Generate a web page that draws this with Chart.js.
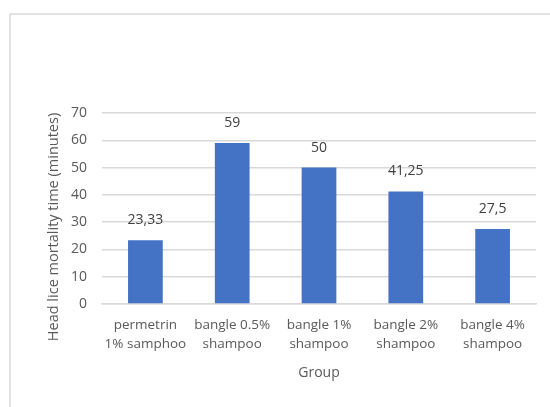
<!DOCTYPE html>
<html>
<head>
<meta charset="utf-8">
<script src="https://cdn.jsdelivr.net/npm/chart.js@4/dist/chart.umd.min.js"></script>
<style>
  html, body { margin: 0; padding: 0; background: #fff; }
  #wrap { position: relative; width: 550px; height: 407px; }
</style>
</head>
<body>
<div id="wrap"><canvas id="c" width="550" height="407"></canvas></div>
<script>
const groups = [
  ['permetrin', '1% samphoo'],
  ['bangle 0.5%', 'shampoo'],
  ['bangle 1%', 'shampoo'],
  ['bangle 2%', 'shampoo'],
  ['bangle 4%', 'shampoo']
];
const mortalityMinutes = [23.33, 59, 50, 41.25, 27.5];
const yTicks = [0, 10, 20, 30, 40, 50, 60, 70];
const yTitle = 'Head lice mortality time (minutes)';
const xTitle = 'Group';

const FONT = '"Open Sans", "Noto Sans", sans-serif';
const SIZE = 14;
const TEXT = '#595959';
const GRID = '#d9d9d9';

// Thin frame along the top and left edges, plus the vertical axis title
const framePlugin = {
  id: 'frame',
  beforeDraw(chart) {
    const ctx = chart.ctx;
    ctx.save();
    ctx.strokeStyle = GRID;
    ctx.lineWidth = 1.5;
    ctx.beginPath();
    ctx.moveTo(10, 407);
    ctx.lineTo(10, 14);
    ctx.lineTo(550, 14);
    ctx.stroke();

    ctx.translate(54, 227);
    ctx.rotate(-Math.PI / 2);
    ctx.font = '14.5px ' + FONT;
    ctx.fillStyle = TEXT;
    ctx.textAlign = 'center';
    ctx.textBaseline = 'middle';
    ctx.fillText(yTitle, 0, 0);
    ctx.restore();
  }
};

// Value labels above each bar, decimal comma
const valueLabels = {
  id: 'valueLabels',
  afterDatasetsDraw(chart) {
    const ctx = chart.ctx;
    const meta = chart.getDatasetMeta(0);
    ctx.save();
    ctx.font = SIZE + 'px ' + FONT;
    ctx.fillStyle = '#404040';
    ctx.textAlign = 'center';
    ctx.textBaseline = 'middle';
    meta.data.forEach((bar, i) => {
      const txt = String(chart.data.datasets[0].data[i]).replace('.', ',');
      ctx.fillText(txt, bar.x, bar.y - 20);
    });
    ctx.restore();
  }
};

new Chart(document.getElementById('c'), {
  type: 'bar',
  data: {
    labels: groups,
    datasets: [{
      data: mortalityMinutes,
      backgroundColor: '#4472C4',
      categoryPercentage: 0.8,
      barPercentage: 0.5
    }]
  },
  options: {
    responsive: false,
    animation: false,
    events: [],
    layout: { padding: { top: 113, right: 14, left: 0, bottom: 0 } },
    plugins: { legend: { display: false }, tooltip: { enabled: false } },
    scales: {
      x: {
        grid: { display: false, drawTicks: false },
        border: { display: true, color: GRID, width: 1.5 },
        ticks: { color: TEXT, font: { family: FONT, size: 13.5, lineHeight: 1.4 }, padding: 12, maxRotation: 0, autoSkip: false },
        title: { display: true, text: xTitle, color: TEXT, font: { family: FONT, size: SIZE }, padding: { top: 0, bottom: 26 } },
        afterFit(scale) { scale.height = 103; }
      },
      y: {
        min: 0,
        max: 70,
        afterBuildTicks(scale) { scale.ticks = yTicks.map(v => ({ value: v })); },
        grid: { color: GRID, lineWidth: 1.5, drawTicks: false },
        border: { display: false },
        ticks: { color: TEXT, font: { family: FONT, size: SIZE }, padding: 15 },
        afterFit(scale) { scale.width = 102; }
      }
    }
  },
  plugins: [framePlugin, valueLabels]
});
</script>
</body>
</html>
